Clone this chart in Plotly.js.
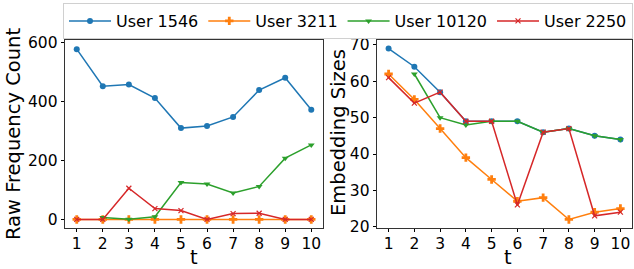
<!DOCTYPE html>
<html>
<head>
<meta charset="utf-8">
<script src="https://cdn.plot.ly/plotly-3.0.1.min.js"></script>
<style>html,body{margin:0;padding:0;background:#fff}#chart{width:634px;height:269px}</style>
</head>
<body>
<div id="chart"></div>
<script>
const t = [1, 2, 3, 4, 5, 6, 7, 8, 9, 10];
const seriesNames = ["User 1546", "User 3211", "User 10120", "User 2250"];
const rawU1546 = [578, 452, 458, 412, 310, 317, 348, 439, 481, 372];
const rawU3211 = [0, 0, 0, 0, 0, 0, 0, 0, 0, 0];
const rawU10120 = [null, 7, 1, 9, 125, 120, 90, 112, 208, 253];
const rawU2250 = [0, 0, 106, 37, 30, 0, 20, 21, 0, 0];
const embU1546 = [69, 64, 57, 49, 49, 49, 46, 47, 45, 44];
const embU3211 = [62, 55, 47, 39, 33, 27, 28, 22, 24, 25];
const embU10120 = [null, 62, 50, 48, 49, 49, 46, 47, 45, 44];
const embU2250 = [61, 54, 57, 49, 49, 26, 46, 47, 23, 24];
const xTitle = "t";
const yTitleLeft = "Raw Frequency Count";
const yTitleRight = "Embedding Sizes";

const colors = ["#1f77b4", "#ff7f0e", "#2ca02c", "#d62728"];
const symbols = ["circle", "cross", "triangle-down", "x-thin-open"];
const sizes = [6, 7, 6, 5];
const raw = [rawU1546, rawU3211, rawU10120, rawU2250];
const emb = [embU1546, embU3211, embU10120, embU2250];

const traces = [];
for (let i = 0; i < 4; i++) {
  const mk = {color: colors[i], symbol: symbols[i], size: sizes[i], line: {color: colors[i], width: i === 3 ? 1.2 : 0}};
  traces.push({x: t, y: raw[i], name: seriesNames[i], mode: "lines+markers", line: {color: colors[i], width: 1.5},
    marker: mk, xaxis: "x", yaxis: "y", legendgroup: "g" + i, showlegend: true, connectgaps: false});
  traces.push({x: t, y: emb[i], name: seriesNames[i], mode: "lines+markers", line: {color: colors[i], width: 1.5},
    marker: mk, xaxis: "x2", yaxis: "y2", legendgroup: "g" + i, showlegend: false, connectgaps: false});
}

const font = {family: "DejaVu Sans", color: "#000"};
const titleFont = {family: "DejaVu Sans", size: 19.5, color: "#000"};
const axBase = {showgrid: false, zeroline: false, showline: true, mirror: true, linecolor: "#333", linewidth: 1.3,
  ticks: "outside", ticklen: 3, tickwidth: 1, tickcolor: "#000", tickfont: {family: "DejaVu Sans", size: 15.5, color: "#000"}};
const yTop = 1 - 40 / 269, yBot = 1 - 228 / 269;
const px = v => v / 634, py = v => 1 - v / 269;

const layout = {
  width: 634, height: 269,
  margin: {l: 0, r: 0, t: 0, b: 0},
  paper_bgcolor: "#fff", plot_bgcolor: "#fff",
  font: font,
  showlegend: true,
  legend: {orientation: "h", x: px(63), xanchor: "left", y: py(3), yanchor: "top",
    bordercolor: "#d0d0d0", borderwidth: 1, bgcolor: "#fff", font: {family: "DejaVu Sans", size: 16, color: "#000"},
    itemwidth: 42, traceorder: "normal"},
  xaxis: Object.assign({}, axBase, {domain: [px(65), px(323)], range: [0.55, 10.45], tickvals: t, ticklabelstandoff: -2}),
  yaxis: Object.assign({}, axBase, {domain: [yBot, yTop], range: [-29, 609], tickvals: [0, 200, 400, 600]}),
  xaxis2: Object.assign({}, axBase, {domain: [px(377), px(632)], range: [0.55, 10.45], tickvals: t, anchor: "y2", ticklabelstandoff: -2}),
  yaxis2: Object.assign({}, axBase, {domain: [yBot, yTop], range: [19.65, 71.35], tickvals: [20, 30, 40, 50, 60, 70], anchor: "x2"}),
  annotations: [
    {text: xTitle, xref: "paper", yref: "paper", x: px(194), y: py(257.5), xanchor: "center", yanchor: "middle", showarrow: false, borderpad: 0, font: titleFont},
    {text: xTitle, xref: "paper", yref: "paper", x: px(508), y: py(257.5), xanchor: "center", yanchor: "middle", showarrow: false, borderpad: 0, font: titleFont},
    {text: yTitleLeft, xref: "paper", yref: "paper", x: px(13), y: py(134), xanchor: "center", yanchor: "middle", textangle: -90, showarrow: false, font: titleFont},
    {text: yTitleRight, xref: "paper", yref: "paper", x: px(339), y: py(133), xanchor: "center", yanchor: "middle", textangle: -90, showarrow: false, font: titleFont}
  ]
};

Plotly.newPlot("chart", traces, layout, {displayModeBar: false, staticPlot: true});
</script>
</body>
</html>
